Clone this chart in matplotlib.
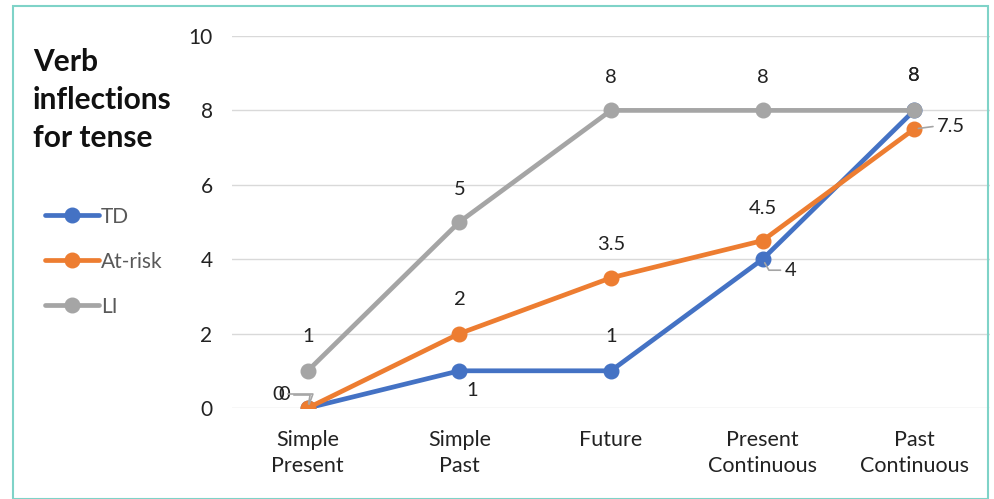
import matplotlib
matplotlib.use('Agg')
import matplotlib.pyplot as plt
from matplotlib.patches import Rectangle

plt.rcParams['font.family'] = ['Lato', 'DejaVu Sans']

categories = ['Simple\nPresent', 'Simple\nPast', 'Future', 'Present\nContinuous', 'Past\nContinuous']
td = [0, 1, 1, 4, 8]
at_risk = [0, 2, 3.5, 4.5, 7.5]
li = [1, 5, 8, 8, 8]

colors = {'TD': '#4472C4', 'At-risk': '#ED7D31', 'LI': '#A5A5A5'}

# label offsets in pixels (dx, dy) relative to each point
td_offsets = [(-30, 14), (13, -20), (0, 34), (28, -11), (0, 35)]
ar_offsets = [(-24, 13), (0, 34), (0, 33), (0, 32), (37, 3)]
li_offsets = [(0, 34), (0, 33), (0, 33), (0, 33), (0, 35)]
# leader line: (relpos on text box, connection style) or None
td_leader = [((1, 0.5), 'angle,angleA=0,angleB=70,rad=0'), None, None,
             ((0, 0.5), 'angle,angleA=180,angleB=-60,rad=0'), None]
ar_leader = [((1, 0.5), 'angle,angleA=0,angleB=80,rad=0'), None, None, None,
             ((0, 0.5), 'arc3')]

fig = plt.figure(figsize=(9.95, 4.99), dpi=100)
ax = fig.add_axes([232/995, 1 - 408/499, 758/995, 372/499])

x = list(range(len(categories)))
lines = {}
for z, (name, vals) in enumerate([('TD', td), ('At-risk', at_risk), ('LI', li)]):
    ln, = ax.plot(x, vals, color=colors[name], lw=3.4, marker='o', ms=10.5,
                  solid_capstyle='round', label=name, zorder=3 + z)
    lines[name] = ln

def label_points(vals, offsets, leaders=None):
    for i, v in enumerate(vals):
        dx, dy = offsets[i]
        kw = dict(xytext=(dx, dy), textcoords='offset pixels', ha='center',
                  va='center', fontsize=14.5, color='#222222', zorder=10)
        if leaders and leaders[i]:
            relpos, cs = leaders[i]
            kw['arrowprops'] = dict(arrowstyle='-', color='#A5A5A5', lw=1.2,
                                    shrinkA=1, shrinkB=3, relpos=relpos,
                                    connectionstyle=cs)
        ax.annotate('%g' % v, (i, v), **kw)

label_points(li, li_offsets)
label_points(at_risk, ar_offsets, ar_leader)
label_points(td, td_offsets, td_leader)

ax.set_xlim(-0.5, len(categories) - 0.5)
ax.set_ylim(0, 10)
ax.set_yticks(range(0, 11, 2))
ax.set_xticks(x)
ax.set_xticklabels(categories, fontsize=15.5, color='#222222', linespacing=1.38)
ax.tick_params(axis='y', labelsize=15, labelcolor='#222222', length=0, pad=14)
ax.tick_params(axis='x', length=0, pad=16)
ax.grid(axis='y', color='#D9D9D9', lw=1)
ax.set_axisbelow(True)
for s in ax.spines.values():
    s.set_visible(False)

fig.text(33/995, 1 - 100/499, 'Verb\ninflections\nfor tense', fontsize=21.5,
         fontweight='bold', va='center', ha='left', linespacing=1.43, color='#111111')

leg = fig.legend([lines['TD'], lines['At-risk'], lines['LI']], ['TD', 'At-risk', 'LI'],
                 loc='upper left', bbox_to_anchor=(26/995, 1 - 188/499), frameon=False,
                 fontsize=15, labelcolor='#595959', handlelength=2.6,
                 handletextpad=0.1, labelspacing=1.2)

fig.patches.append(Rectangle((13/995, 0), 975/995, 1 - 6/499, transform=fig.transFigure,
                             fill=False, edgecolor='#7FD3C8', lw=1.5))

fig.savefig('out.png', dpi=100)
